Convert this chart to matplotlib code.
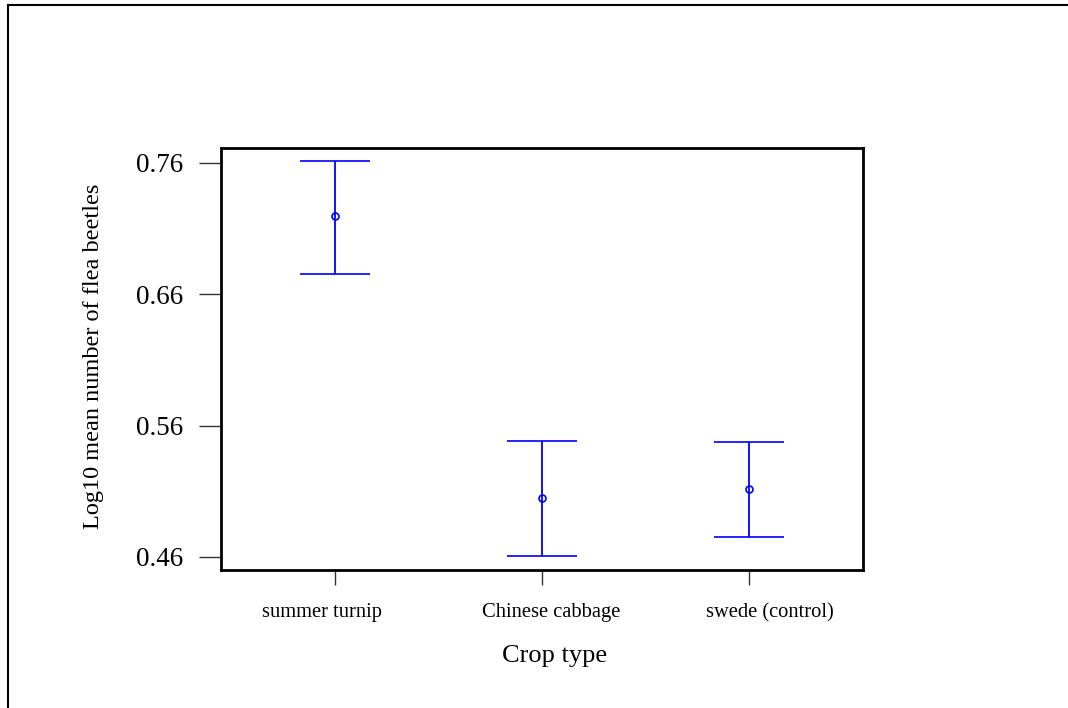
import matplotlib
matplotlib.use("Agg")
import matplotlib.pyplot as plt
from matplotlib.lines import Line2D
from matplotlib.transforms import ScaledTranslation

categories = ["summer turnip", "Chinese cabbage", "swede (control)"]
means = [0.7196, 0.5052, 0.5121]
upper = [0.7615, 0.5486, 0.5479]
lower = [0.6755, 0.4608, 0.4752]
yticks = [0.46, 0.56, 0.66, 0.76]

plt.rcParams['font.family'] = ['Liberation Serif', 'DejaVu Serif']

W, H = 1068, 708
fig = plt.figure(figsize=(W / 100, H / 100), dpi=100)
ax = fig.add_axes([221 / W, 1 - 570 / H, (863 - 221) / W, (570 - 148) / H])

x = list(range(1, len(categories) + 1))
yerr = [[m - l for m, l in zip(means, lower)], [u - m for m, u in zip(means, upper)]]
ax.errorbar(x, means, yerr=yerr, fmt='o', color='#0000ff', ecolor='#0000ff',
            elinewidth=1.3, capsize=25, capthick=1.3, markersize=5,
            markerfacecolor='none', markeredgewidth=1.2)

ax.set_xlim(0.45, 3.55)
ax.set_ylim(0.4501, 0.7714)
ax.set_yticks(yticks)
ax.set_yticklabels([f"{v:.2f}" for v in yticks])
ax.set_xticks(x)
ax.set_xticklabels(categories)

for s in ax.spines.values():
    s.set_linewidth(2)
    s.set_color('black')

ax.tick_params(axis='y', length=16, width=1, color='#333333', pad=11, labelsize=19.5, direction='out')
ax.tick_params(axis='x', length=11, width=1, color='#333333', pad=9, labelsize=14.8, direction='out')

# slight horizontal offsets of the category labels, as in the reference
offsets_px = [-13, 9, 21]
for lab, dx in zip(ax.get_xticklabels(), offsets_px):
    lab.set_transform(lab.get_transform() + ScaledTranslation(dx / 100, -5 / 100, fig.dpi_scale_trans))

ax.set_ylabel("Log10 mean number of flea beetles", fontsize=17.5)
ax.yaxis.set_label_coords(-0.183, 0.506)
ax.set_xlabel("Crop type", fontsize=19)
ax.xaxis.set_label_coords(0.519, -0.178)

# outer frame (left and top edges)
fig.add_artist(Line2D([8 / W, 8 / W], [0, 1 - 5 / H], transform=fig.transFigure, color='black', lw=1.5))
fig.add_artist(Line2D([8 / W, 1], [1 - 5 / H, 1 - 5 / H], transform=fig.transFigure, color='black', lw=1.5))

fig.savefig("out.png", dpi=100)
